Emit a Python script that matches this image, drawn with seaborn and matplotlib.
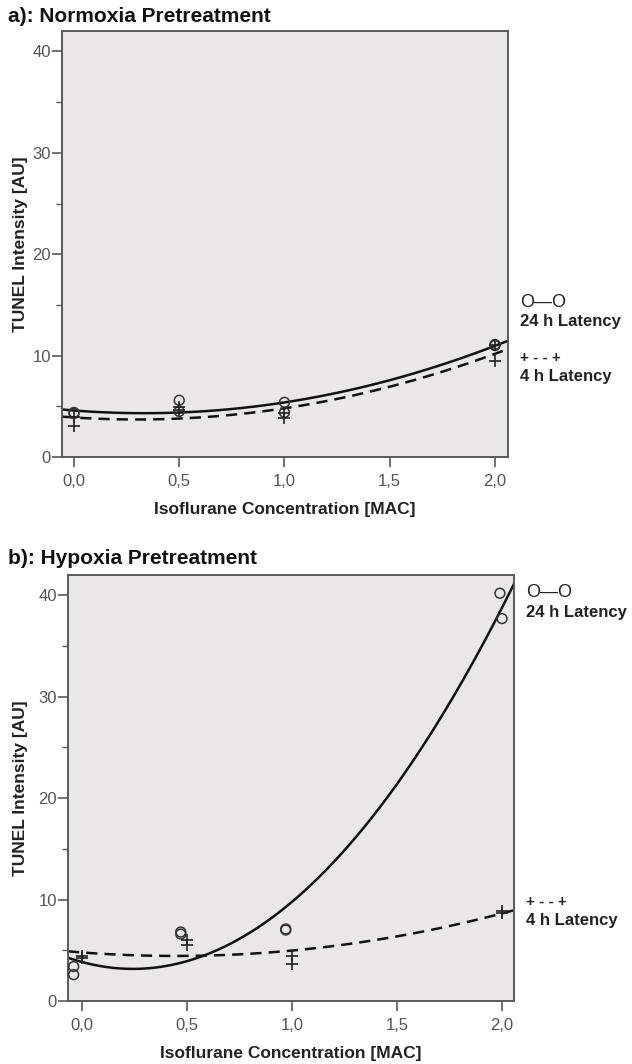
import numpy as np
import pandas as pd
import matplotlib
matplotlib.use('Agg')
import matplotlib.pyplot as plt
import seaborn as sns

# Data (TUNEL intensity, AU)
# a) Normoxia pretreatment
norm_x24 = [0.0, 0.0, 0.5, 0.5, 1.0, 1.0, 2.0, 2.0]
norm_y24 = [4.3, 4.4, 5.6, 4.5, 5.4, 4.4, 11.1, 11.0]
norm_x4 = [0.0, 0.0, 0.5, 0.5, 1.0, 1.0, 2.0, 2.0]
norm_y4 = [4.0, 3.1, 4.9, 4.6, 4.3, 3.9, 11.1, 9.5]

# b) Hypoxia pretreatment
hyp_x24 = [-0.04, -0.04, 0.47, 0.47, 0.97, 0.97, 1.99, 2.0]
hyp_y24 = [3.4, 2.6, 6.8, 6.6, 7.1, 7.0, 40.2, 37.7]
hyp_x4 = [0.0, 0.0, 0.5, 0.5, 1.0, 1.0, 2.0, 2.0]
hyp_y4 = [4.4, 4.2, 6.0, 5.5, 4.4, 3.6, 8.7, 8.9]

titles = ['a): Normoxia Pretreatment', 'b): Hypoxia Pretreatment']
x_ticks = [0.0, 0.5, 1.0, 1.5, 2.0]
x_ticklabels = ['0,0', '0,5', '1,0', '1,5', '2,0']
y_ticks = [0, 10, 20, 30, 40]

sns.set_style('ticks')
plt.rcParams['font.family'] = ['Liberation Sans', 'DejaVu Sans']

bg = '#ebe7e7'
spine_col = '#5a5a5a'
tick_col = '#555555'

fig = plt.figure(figsize=(6.32, 10.64), dpi=100)

panels = [
    dict(rect=[0.0981, 0.5704, 0.7057, 0.4004], xlim=(-0.057, 2.062),
         x24=norm_x24, y24=norm_y24, x4=norm_x4, y4=norm_y4,
         title_y=1 - 16 / 1064, ylab_x=-0.076,
         leg=[0.364, 0.319, 0.232, 0.190]),
    dict(rect=[0.1076, 0.0592, 0.7057, 0.4004], xlim=(-0.067, 2.057),
         x24=hyp_x24, y24=hyp_y24, x4=hyp_x4, y4=hyp_y4,
         title_y=1 - 558 / 1064, ylab_x=-0.090,
         leg=[0.960, 0.913, 0.232, 0.190]),
]

for title, p in zip(titles, panels):
    ax = fig.add_axes(p['rect'])
    ax.set_facecolor(bg)
    ax.set_xlim(*p['xlim'])
    ax.set_ylim(0, 42)

    d24 = pd.DataFrame({'x': p['x24'], 'y': p['y24']})
    d4 = pd.DataFrame({'x': p['x4'], 'y': p['y4']})

    # quadratic fits spanning the full x range
    sns.regplot(data=d24, x='x', y='y', order=2, ci=None, scatter=False,
                truncate=False, ax=ax,
                line_kws=dict(color='#111111', lw=1.8, ls='-'))
    sns.regplot(data=d4, x='x', y='y', order=2, ci=None, scatter=False,
                truncate=False, ax=ax,
                line_kws=dict(color='#111111', lw=1.8, dashes=(4.5, 2.8)))

    sns.scatterplot(data=d24, x='x', y='y', ax=ax, marker='o', s=50,
                    facecolor='none', edgecolor='#333333', linewidth=1.1,
                    zorder=5)
    sns.scatterplot(data=d4, x='x', y='y', ax=ax, marker='+', s=80,
                    color='#222222', linewidth=1.2, zorder=5)

    ax.set_xticks(x_ticks)
    ax.set_xticklabels(x_ticklabels)
    ax.set_yticks(y_ticks)
    ax.set_yticks([5, 15, 25, 35], minor=True)
    ax.tick_params(axis='both', which='major', colors=spine_col,
                   labelcolor=tick_col, labelsize=12, length=7, width=1.2)
    ax.tick_params(axis='x', pad=5)
    ax.tick_params(axis='y', pad=1)
    ax.tick_params(axis='y', which='minor', colors=spine_col, length=4,
                   width=1.0)
    for s in ax.spines.values():
        s.set_visible(True)
        s.set_color(spine_col)
        s.set_linewidth(1.4)

    ax.set_xlabel('Isoflurane Concentration [MAC]', fontsize=12.5,
                  fontweight='bold', color='#222222')
    ax.set_ylabel('TUNEL Intensity [AU]', fontsize=12.5, fontweight='bold',
                  color='#222222')
    ax.yaxis.set_label_coords(p['ylab_x'], 0.5)
    ax.xaxis.set_label_coords(0.5, -0.105)

    fig.text(8 / 632, p['title_y'], title, fontsize=15, fontweight='bold',
             color='#111111', ha='left', va='center')

    # right-hand legend text
    lx = 1.028
    ly = p['leg']
    ax.text(lx, ly[0], 'O—O', transform=ax.transAxes, fontsize=13,
            color='#222222', ha='left', va='center')
    ax.text(lx, ly[1], '24 h Latency', transform=ax.transAxes, fontsize=12,
            fontweight='bold', color='#222222', ha='left', va='center')
    ax.text(lx, ly[2], '+ - - +', transform=ax.transAxes, fontsize=11,
            fontweight='bold', color='#222222', ha='left', va='center')
    ax.text(lx, ly[3], '4 h Latency', transform=ax.transAxes, fontsize=12,
            fontweight='bold', color='#222222', ha='left', va='center')

fig.savefig('out.png', dpi=100, facecolor='white')
